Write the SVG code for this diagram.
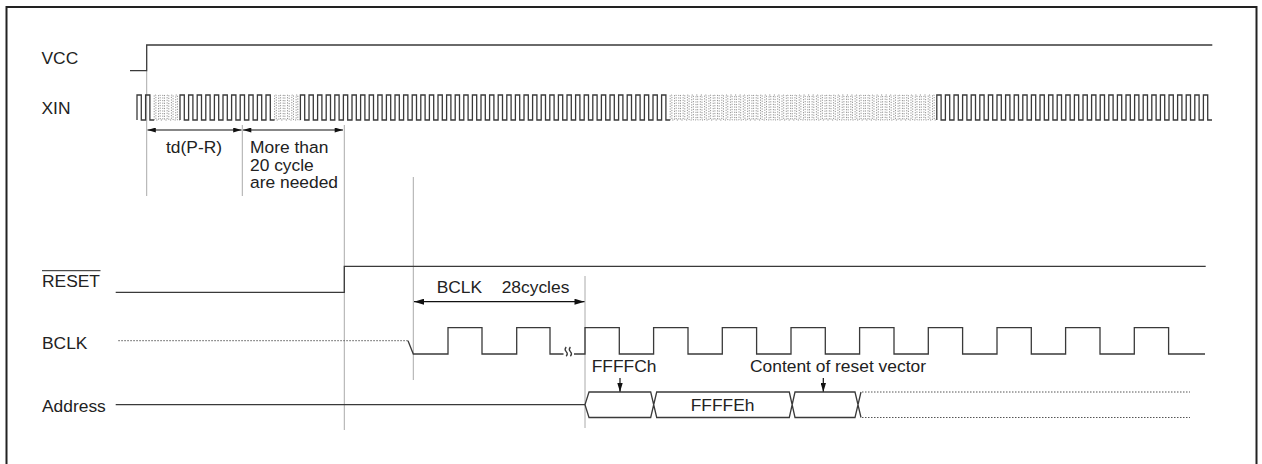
<svg xmlns="http://www.w3.org/2000/svg" width="1262" height="464" viewBox="0 0 1262 464">
<style>
text{font-family:"Liberation Sans",Arial,sans-serif;font-size:17.4px;fill:#222}
.sig{fill:none;stroke:#3a3a3a;stroke-width:1.3}
.dot{fill:none;stroke:#555;stroke-width:1;stroke-dasharray:1.5 1.5}
.dz{fill:none;stroke:#777;stroke-width:0.8;stroke-dasharray:1.2 1.4}
.guide{fill:none;stroke:#aaa;stroke-width:1}
.arr{fill:none;stroke:#111;stroke-width:1.2}
</style>
<defs>
<marker id="ah" viewBox="0 0 10 6" refX="10" refY="3" markerWidth="10" markerHeight="5" orient="auto-start-reverse" markerUnits="userSpaceOnUse"><path d="M0,0L10,3L0,6z" fill="#111"/></marker>
<marker id="ahb" viewBox="0 0 10 6" refX="10" refY="3" markerWidth="13" markerHeight="6" orient="auto-start-reverse" markerUnits="userSpaceOnUse"><path d="M0,0L10,3L0,6z" fill="#111"/></marker>
<marker id="ahs" viewBox="0 0 10 6" refX="10" refY="3" markerWidth="9" markerHeight="5.5" orient="auto" markerUnits="userSpaceOnUse"><path d="M0,0L10,3L0,6z" fill="#111"/></marker>
</defs>
<rect x="6.5" y="7" width="1250" height="470" fill="none" stroke="#222" stroke-width="2"/>

<g id="connectors">
<path class="guide" d="M146.7,71V196M242.3,125V196M344.3,125V430M413.3,177V380M585,276V428"/>
<path class="arr" d="M147.5,130H241.5" marker-start="url(#ah)" marker-end="url(#ah)"/>
<path class="arr" d="M243,130H343" marker-start="url(#ah)" marker-end="url(#ah)"/>
<path class="arr" d="M414,301.7H584.5" marker-start="url(#ahb)" marker-end="url(#ahb)"/>
<path class="arr" d="M620,378V392" marker-end="url(#ahs)"/>
<path class="arr" d="M823.3,378V392" marker-end="url(#ahs)"/>
</g>

<g id="vcc">
<text x="41.5" y="63.5">VCC</text>
<path class="sig" d="M130,70.7H146.7V45H1212.3"/>
</g>

<g id="xin">
<text x="41.5" y="114">XIN</text>
<path class="sig" d="M137,120 v-25h4.3v25h4.3 v-25h4.3v25h4.3"/>
<path class="dz" d="M154.2,120 v-25h1.7v25h2.6 v-25h1.7v25h2.6 v-25h1.7v25h2.6 v-25h1.7v25h2.6 v-25h1.7v25h2.6 v-25h1.7v25h2.6"/>
<path class="sig" d="M180,120 v-25h4.3v25h4.3 v-25h4.3v25h4.3 v-25h4.3v25h4.3 v-25h4.3v25h4.3 v-25h4.3v25h4.3 v-25h4.3v25h4.3 v-25h4.3v25h4.3 v-25h4.3v25h4.3 v-25h4.3v25h4.3 v-25h4.3v25h4.3 v-25h4.3v25h4.3"/>
<path class="dz" d="M274.6,120 v-25h1.7v25h2.6 v-25h1.7v25h2.6 v-25h1.7v25h2.6 v-25h1.7v25h2.6 v-25h1.7v25h2.6 v-25h1.7v25h2.6"/>
<path class="sig" d="M300.4,120 v-25h4.3v25h4.3 v-25h4.3v25h4.3 v-25h4.3v25h4.3 v-25h4.3v25h4.3 v-25h4.3v25h4.3 v-25h4.3v25h4.3 v-25h4.3v25h4.3 v-25h4.3v25h4.3 v-25h4.3v25h4.3 v-25h4.3v25h4.3
 v-25h4.3v25h4.3 v-25h4.3v25h4.3 v-25h4.3v25h4.3 v-25h4.3v25h4.3 v-25h4.3v25h4.3 v-25h4.3v25h4.3 v-25h4.3v25h4.3 v-25h4.3v25h4.3 v-25h4.3v25h4.3 v-25h4.3v25h4.3
 v-25h4.3v25h4.3 v-25h4.3v25h4.3 v-25h4.3v25h4.3 v-25h4.3v25h4.3 v-25h4.3v25h4.3 v-25h4.3v25h4.3 v-25h4.3v25h4.3 v-25h4.3v25h4.3 v-25h4.3v25h4.3 v-25h4.3v25h4.3
 v-25h4.3v25h4.3 v-25h4.3v25h4.3 v-25h4.3v25h4.3 v-25h4.3v25h4.3 v-25h4.3v25h4.3 v-25h4.3v25h4.3 v-25h4.3v25h4.3 v-25h4.3v25h4.3 v-25h4.3v25h4.3 v-25h4.3v25h4.3
 v-25h4.3v25h4.3 v-25h4.3v25h4.3 v-25h4.3v25h4.3"/>
<path class="dz" d="M670.2,120 v-25h1.7v25h2.6 v-25h1.7v25h2.6 v-25h1.7v25h2.6 v-25h1.7v25h2.6 v-25h1.7v25h2.6 v-25h1.7v25h2.6 v-25h1.7v25h2.6 v-25h1.7v25h2.6 v-25h1.7v25h2.6 v-25h1.7v25h2.6
 v-25h1.7v25h2.6 v-25h1.7v25h2.6 v-25h1.7v25h2.6 v-25h1.7v25h2.6 v-25h1.7v25h2.6 v-25h1.7v25h2.6 v-25h1.7v25h2.6 v-25h1.7v25h2.6 v-25h1.7v25h2.6 v-25h1.7v25h2.6
 v-25h1.7v25h2.6 v-25h1.7v25h2.6 v-25h1.7v25h2.6 v-25h1.7v25h2.6 v-25h1.7v25h2.6 v-25h1.7v25h2.6 v-25h1.7v25h2.6 v-25h1.7v25h2.6 v-25h1.7v25h2.6 v-25h1.7v25h2.6
 v-25h1.7v25h2.6 v-25h1.7v25h2.6 v-25h1.7v25h2.6 v-25h1.7v25h2.6 v-25h1.7v25h2.6 v-25h1.7v25h2.6 v-25h1.7v25h2.6 v-25h1.7v25h2.6 v-25h1.7v25h2.6 v-25h1.7v25h2.6
 v-25h1.7v25h2.6 v-25h1.7v25h2.6 v-25h1.7v25h2.6 v-25h1.7v25h2.6 v-25h1.7v25h2.6 v-25h1.7v25h2.6 v-25h1.7v25h2.6 v-25h1.7v25h2.6 v-25h1.7v25h2.6 v-25h1.7v25h2.6
 v-25h1.7v25h2.6 v-25h1.7v25h2.6 v-25h1.7v25h2.6 v-25h1.7v25h2.6 v-25h1.7v25h2.6 v-25h1.7v25h2.6 v-25h1.7v25h2.6 v-25h1.7v25h2.6 v-25h1.7v25h2.6 v-25h1.7v25h2.6
 v-25h1.7v25h2.6 v-25h1.7v25h2.6"/>
<path class="sig" d="M936.8,120 v-25h4.3v25h4.3 v-25h4.3v25h4.3 v-25h4.3v25h4.3 v-25h4.3v25h4.3 v-25h4.3v25h4.3 v-25h4.3v25h4.3 v-25h4.3v25h4.3 v-25h4.3v25h4.3 v-25h4.3v25h4.3 v-25h4.3v25h4.3
 v-25h4.3v25h4.3 v-25h4.3v25h4.3 v-25h4.3v25h4.3 v-25h4.3v25h4.3 v-25h4.3v25h4.3 v-25h4.3v25h4.3 v-25h4.3v25h4.3 v-25h4.3v25h4.3 v-25h4.3v25h4.3 v-25h4.3v25h4.3
 v-25h4.3v25h4.3 v-25h4.3v25h4.3 v-25h4.3v25h4.3 v-25h4.3v25h4.3 v-25h4.3v25h4.3 v-25h4.3v25h4.3 v-25h4.3v25h4.3 v-25h4.3v25h4.3 v-25h4.3v25h4.3 v-25h4.3v25h4.3
 v-25h4.3v25h4.3 v-25h4.3v25h4.3"/>
<text x="166" y="153">td(P-R)</text>
<text x="250" y="153">More than</text>
<text x="250" y="170.5">20 cycle</text>
<text x="250" y="188">are needed</text>
</g>

<g id="reset">
<text x="42" y="287.3">RESET</text>
<path d="M42,270.7H100.5" stroke="#222" stroke-width="1"/>
<path class="sig" d="M115.7,292.3H344.3V266.3H1205.7"/>
</g>

<g id="bclk">
<text x="42" y="349">BCLK</text>
<path class="dot" d="M118.3,340.7H408"/>
<path class="sig" d="M408,340.7L413.3,354H448V327.7H482V354H516.7V327.7H550V354H563.5"/>
<path class="sig" d="M566.2,347q-2.2,2.4,0,4.6q2.2,2.2,0,4.6M570.4,347q-2.2,2.4,0,4.6q2.2,2.2,0,4.6" stroke-width="1.1"/>
<path class="sig" d="M574,354H585V327.7H619.3V354H653.6V327.7H688V354H722.3V327.7H756.6V354H791V327.7H825.3V354H859.6V327.7H894V354H928.3V327.7H962.6V354H997V327.7H1031.3V354H1065.6V327.7H1100V354H1134.3V327.7H1168.6V354H1205"/>
<text x="436.7" y="293.3">BCLK</text>
<text x="501.7" y="293.3">28cycles</text>
</g>

<g id="address">
<text x="42" y="411.5">Address</text>
<path class="sig" d="M115.7,404.7H585L589,392H650.7L656.7,417.5H789.3L795,392H855L861,417.5M585,404.7L589,417.5H650.7L656.7,392H789.3L795,417.5H855L861,392"/>
<path class="dot" d="M862,392H1190M862,417.5H1190"/>
<text x="591.7" y="371.7">FFFFCh</text>
<text x="690.7" y="410.7">FFFFEh</text>
<text x="750" y="371.7">Content of reset vector</text>
</g>
</svg>
